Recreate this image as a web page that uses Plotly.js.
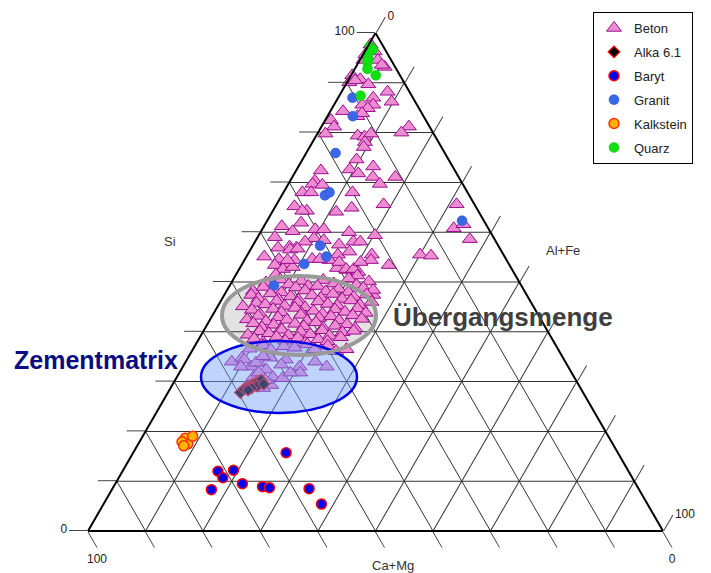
<!DOCTYPE html>
<html>
<head>
<meta charset="utf-8">
<script src="https://cdn.plot.ly/plotly-3.0.1.min.js"></script>
<style>html,body{margin:0;padding:0;background:#fff;}#chart{width:711px;height:573px;}</style>
</head>
<body>
<div id="chart"></div>
<script>
// Each point: [Si, Ca+Mg, Al+Fe]
const betonPoints = [
 [97.7,2.0,0.3],[96.3,2.0,1.7],[94.6,4.8,0.6],[94.6,2.3,3.1],[93.2,1.8,5.0],[91.5,8.3,0.2],[90.7,7.3,2.0],
 [89.7,6.4,3.9],[88.2,3.8,8.0],[86.2,4.1,9.7],[87.0,6.9,6.1],[85.6,7.6,6.8],[85.6,9.5,4.9],[84.9,8.9,6.2],
 [84.3,13.5,2.2],[82.5,16.5,1.0],[83.3,11.5,5.2],[83.9,10.4,5.7],[95.7,3.9,0.4],[93.6,2.1,4.3],[90.1,9.5,0.4],
 [90.5,8.3,1.2],[81.2,16.6,2.2],[79.8,18.8,1.4],[79.4,13.4,7.2],[79.2,12.3,8.5],[79.8,10.9,9.3],[78.1,12.8,9.1],
 [77.1,13.5,9.4],[81.2,3.6,15.2],[80.0,5.5,14.5],[74.6,16.0,9.4],[73.2,13.8,13.0],[72.6,18.2,9.2],[71.8,17.1,11.1],
 [71.1,14.9,14.0],[71.1,11.0,17.9],[72.4,23.3,4.3],[70.3,25.4,4.3],[69.7,26.1,4.2],[69.5,24.5,6.0],[68.0,28.7,3.3],
 [68.0,27.2,4.8],[69.7,14.4,15.9],[68.0,20.0,12.0],[64.1,24.8,11.1],[64.9,21.7,13.4],[65.6,15.8,18.6],[65.2,31.5,3.3],
 [64.3,29.8,5.9],[64.3,30.6,5.1],[65.6,3.1,31.3],[60.8,6.0,33.2],[61.6,3.9,34.5],[58.6,4.3,37.1],[61.2,35.7,3.1],
 [60.2,34.3,5.5],[61.9,32.0,6.1],[60.6,30.2,9.2],[60.6,28.7,10.7],[58.8,31.3,9.9],[58.4,29.8,11.8],[58.1,33.2,8.7],
 [56.9,35.3,7.8],[57.1,36.4,6.5],[56.9,38.5,4.6],[59.0,38.0,3.0],[57.5,27.6,14.9],[58.1,24.8,17.1],[58.1,23.6,18.3],
 [60.0,24.6,15.4],[59.4,20.4,20.2],[55.5,28.8,15.7],[56.1,26.5,17.4],[55.5,22.9,21.6],[54.4,23.6,22.0],[53.4,21.0,25.6],
 [55.5,14.5,30.0],[55.3,12.7,32.0],[55.1,41.8,3.1],[54.6,39.5,5.9],[53.6,38.8,7.6],[54.4,36.9,8.7],[54.4,30.8,14.8],
 [52.8,30.3,16.9],[52.4,28.8,18.8],[52.0,27.0,21.0],[47.4,26.7,25.9],[54.6,33.7,11.7],[54.6,32.4,13.0],[53.4,40.8,5.8],
 [52.6,39.8,7.6],[53.0,37.9,9.1],[54.0,29.3,16.7],[52.6,28.8,18.6],[52.6,27.5,19.9],[54.0,25.6,20.4],[51.5,41.6,6.9],
 [51.3,27.5,21.2],[56.5,36.6,6.9],[56.7,35.2,8.1],[54.4,38.1,7.5],
 [49.9,44.1,6.0],[50.5,41.3,8.2],[49.5,40.3,10.2],[50.2,37.8,12.0],[49.2,37.1,13.7],[50.4,33.9,15.7],[49.7,32.4,17.9],
 [50.7,29.3,20.0],[49.4,28.6,22.0],[50.1,26.1,23.8],
 [48.2,47.2,4.6],[49.0,45.0,6.0],[48.5,43.5,8.0],[47.9,42.4,9.7],[48.9,39.4,11.7],[48.3,38.1,13.6],[49.2,35.5,15.3],
 [48.1,34.6,17.3],[48.6,32.1,19.3],[48.0,30.7,21.3],[48.8,27.7,23.5],[48.4,26.2,25.4],
 [47.4,47.9,4.7],[46.7,47.0,6.3],[47.7,44.4,7.9],[46.5,43.6,9.9],[47.1,41.2,11.7],[46.4,40.2,13.4],[47.3,37.4,15.3],
 [46.8,36.1,17.1],[47.6,33.6,18.8],[46.6,32.5,20.9],[47.0,30.3,22.7],[47.5,27.8,24.7],
 [45.1,50.5,4.4],[45.8,47.8,6.4],[45.5,46.4,8.1],[46.2,44.1,9.7],[45.2,43.2,11.6],[45.9,40.6,13.5],[44.9,39.8,15.3],
 [46.1,36.9,17.0],[45.6,35.5,18.9],[45.3,34.0,20.7],[46.3,31.1,22.6],[45.4,30.0,24.6],[46.0,27.7,26.3],
 [44.4,49.3,6.3],[43.5,48.3,8.2],[44.6,45.5,9.9],[43.9,44.4,11.7],[44.8,41.6,13.6],[43.7,41.0,15.3],[44.2,38.7,17.1],
 [43.6,37.4,19.0],[44.5,34.8,20.7],[44.0,33.3,22.7],[44.7,30.8,24.5],[43.8,29.8,26.4],
 [42.5,51.1,6.4],[43.2,48.8,8.0],[42.1,48.0,9.9],[42.9,45.5,11.6],[42.4,44.2,13.4],[43.4,41.3,15.3],[42.2,40.8,17.0],
 [42.8,38.4,18.8],[43.1,36.2,20.7],[42.3,35.2,22.5],[43.3,32.3,24.4],[42.6,31.1,26.3],
 [41.7,50.4,7.9],[40.9,49.3,9.8],[41.4,47.0,11.6],[40.6,46.1,13.3],[41.6,43.2,15.2],[41.1,41.9,17.0],[41.9,39.4,18.7],
 [40.8,38.7,20.5],[41.2,36.4,22.4],[41.5,34.2,24.3],[40.7,33.2,26.1],
 [39.4,52.5,8.1],[40.1,50.1,9.8],[39.7,48.7,11.6],[40.4,46.1,13.5],[39.3,45.5,15.2],[40.0,43.0,17.0],[39.5,41.6,18.9],
 [40.3,39.1,20.6],[39.2,38.4,22.4],[39.9,35.8,24.3],[40.2,33.7,26.1],
 [38.6,51.8,9.6],[37.9,50.6,11.5],[39.0,47.7,13.3],[38.2,46.6,15.2],[38.8,44.1,17.1],[37.8,43.3,18.9],[38.5,40.7,20.8],
 [38.1,39.3,22.6],[38.9,36.6,24.5],
 [36.6,53.6,9.8],[37.3,50.9,11.8],[36.4,50.0,13.6],[37.1,47.4,15.5],[36.8,45.7,17.5],[37.5,43.1,19.4],[36.5,42.3,21.2],
 [37.2,39.7,23.1],
 [34.0,58.0,8.0],[34.8,55.8,9.4],[33.0,55.2,11.8],[33.8,53.4,12.8],[32.4,52.8,14.8],[30.9,52.4,16.7],[30.7,50.8,18.5],
 [29.3,53.5,17.2],[28.7,55.2,16.1],[33.0,46.7,20.3],[31.8,47.2,21.0],[34.0,43.5,22.5],[33.0,42.0,25.0],[34.8,50.9,14.3],
 [34.4,48.4,17.2],[30.9,55.8,13.3],[31.8,54.4,13.8],[34.4,55.6,10.0],[33.8,53.9,12.3],[31.8,48.9,19.3],[33.4,49.7,16.9],
 [35.1,52.0,12.9],[33.0,56.9,10.1],[30.3,54.0,15.7],[36.1,38.8,25.1],[36.5,36.8,26.7]
];
const alkaPoints = [
 [27.8,59.6,12.6],[28.5,58.6,12.9],[28.9,57.9,13.2],[29.1,57.3,13.6],[29.5,56.6,13.9],[29.7,56.0,14.3],
 [30.1,55.3,14.6],[30.3,54.7,15.0],[29.1,56.0,14.9],[28.7,57.2,14.1],[28.3,58.0,13.7],[29.5,54.7,15.8]
];
const barytPoints = [
 [15.7,57.7,26.6],[12.0,71.4,16.6],[10.7,71.2,18.1],[12.2,68.6,19.2],[8.3,74.4,17.3],
 [9.5,68.4,22.1],[8.9,65.2,25.9],[8.7,64.1,27.2],[8.5,57.3,34.2],[5.4,56.7,37.9]
];
const granitPoints = [
 [87.0,10.5,2.5],[83.3,12.3,4.4],[75.9,19.0,5.1],[67.4,25.1,7.5],[68.0,24.0,8.0],
 [57.3,31.0,11.7],[55.1,31.0,13.9],[53.6,35.6,10.8],[49.3,43.0,7.7],[62.3,3.8,33.9]
];
const kalksteinPoints = [
 [18.6,73.8,7.6],[17.5,73.9,8.6],[19.0,72.3,8.7],[17.9,74.7,7.4],[17.1,74.8,8.1]
];
const quarzPoints = [
 [97.3,2.3,0.4],[96.7,2.1,1.2],[95.9,3.3,0.8],[94.8,3.9,1.3],[94.2,4.3,1.5],[92.8,5.0,2.2],[91.5,4.2,4.3],[87.4,8.9,3.7]
];
const seriesNames = ['Beton','Alka 6.1','Baryt','Granit','Kalkstein','Quarz'];
const tickValues = [0,10,20,30,40,50,60,70,80,90,100];
const tickLabels = ['0','','','','','','','','','','100'];
const axisTitles = ['Si','Ca+Mg','Al+Fe'];
const regionLabels = ['Übergangsmenge','Zementmatrix'];

const FONT = 'Liberation Sans, Arial, sans-serif';

function tr(points, name, marker) {
  return {
    type: 'scatterternary', mode: 'markers', name: name, legendgroup: name,
    a: points.map(p => p[0]), b: points.map(p => p[1]), c: points.map(p => p[2]),
    marker: marker, hoverinfo: 'skip', cliponaxis: false
  };
}

const data = [
  tr(betonPoints, seriesNames[0], {symbol:'triangle-up', size:13, color:'#EE8CD2', line:{color:'#9A0C8E', width:1}}),
  tr(alkaPoints, seriesNames[1], {symbol:'diamond', size:9, color:'#000000', line:{color:'#FF0000', width:1.2}}),
  tr(barytPoints, seriesNames[2], {symbol:'circle', size:10, color:'#0000F0', line:{color:'#FF0000', width:1.5}}),
  tr(granitPoints, seriesNames[3], {symbol:'circle', size:10, color:'#3A66E8', line:{color:'#2A52C8', width:0.5}}),
  tr(kalksteinPoints, seriesNames[4], {symbol:'circle', size:10, color:'#FFB400', line:{color:'#FF3000', width:1.5}}),
  tr(quarzPoints, seriesNames[5], {symbol:'circle', size:10, color:'#10E010', line:{color:'#10C010', width:0.5}})
];

function axis() {
  return {
    title: {text: ''}, min: 0,
    tickmode: 'array', tickvals: tickValues, ticktext: tickLabels,
    ticks: 'outside', ticklen: 18, tickwidth: 1, tickcolor: '#444',
    showgrid: true, gridcolor: '#333', gridwidth: 1,
    showline: true, linecolor: '#000', linewidth: 2,
    tickfont: {family: FONT, size: 12, color: '#222'}
  };
}

const W = 711, H = 573;
const px = v => v / W, py = v => 1 - v / H;

const layout = {
  width: W, height: H,
  margin: {l:0, r:0, t:0, b:0},
  paper_bgcolor: '#ffffff',
  showlegend: true,
  legend: {
    x: px(693), y: py(12), xanchor: 'right', yanchor: 'top',
    bordercolor: '#000', borderwidth: 1, bgcolor: '#fff',
    font: {family: FONT, size: 13, color: '#222'},
    tracegroupgap: 4, itemwidth: 30
  },
  ternary: {
    sum: 100,
    domain: {x: [0.1238, 0.9325], y: [0.0733, 0.9424]},
    bgcolor: 'rgba(0,0,0,0)',
    aaxis: axis(), baxis: axis(), caxis: axis()
  },
  shapes: [
    {type:'circle', xref:'paper', yref:'paper', x0:px(222), x1:px(376), y0:py(355), y1:py(276),
     layer:'below', fillcolor:'rgba(210,210,210,0.65)', line:{width:0}},
    {type:'circle', xref:'paper', yref:'paper', x0:px(201), x1:px(357), y0:py(413), y1:py(341),
     layer:'above', fillcolor:'rgba(110,160,250,0.45)', line:{color:'#0000E6', width:2.5}},
    {type:'circle', xref:'paper', yref:'paper', x0:px(222), x1:px(376), y0:py(355), y1:py(276),
     layer:'above', fillcolor:'rgba(0,0,0,0)', line:{color:'#9a9a9a', width:4}}
  ],
  annotations: [
    {x:px(391), y:py(317), xref:'paper', yref:'paper', xanchor:'left', yanchor:'middle', showarrow:false,
     text:'<b>'+regionLabels[0]+'</b>', font:{family:FONT, size:26, color:'#3f3f3f'}},
    {x:px(12), y:py(360), xref:'paper', yref:'paper', xanchor:'left', yanchor:'middle', showarrow:false,
     text:'<b>'+regionLabels[1]+'</b>', font:{family:FONT, size:25, color:'#0c0c82'}},
    {x:px(170), y:py(241), xref:'paper', yref:'paper', xanchor:'center', yanchor:'middle', showarrow:false,
     text:axisTitles[0], font:{family:FONT, size:13, color:'#333'}},
    {x:px(393), y:py(565), xref:'paper', yref:'paper', xanchor:'center', yanchor:'middle', showarrow:false,
     text:axisTitles[1], font:{family:FONT, size:13, color:'#333'}},
    {x:px(563), y:py(250), xref:'paper', yref:'paper', xanchor:'center', yanchor:'middle', showarrow:false,
     text:axisTitles[2], font:{family:FONT, size:13, color:'#333'}}
  ]
};

Plotly.newPlot('chart', data, layout, {staticPlot: true, displayModeBar: false});
</script>
</body>
</html>
